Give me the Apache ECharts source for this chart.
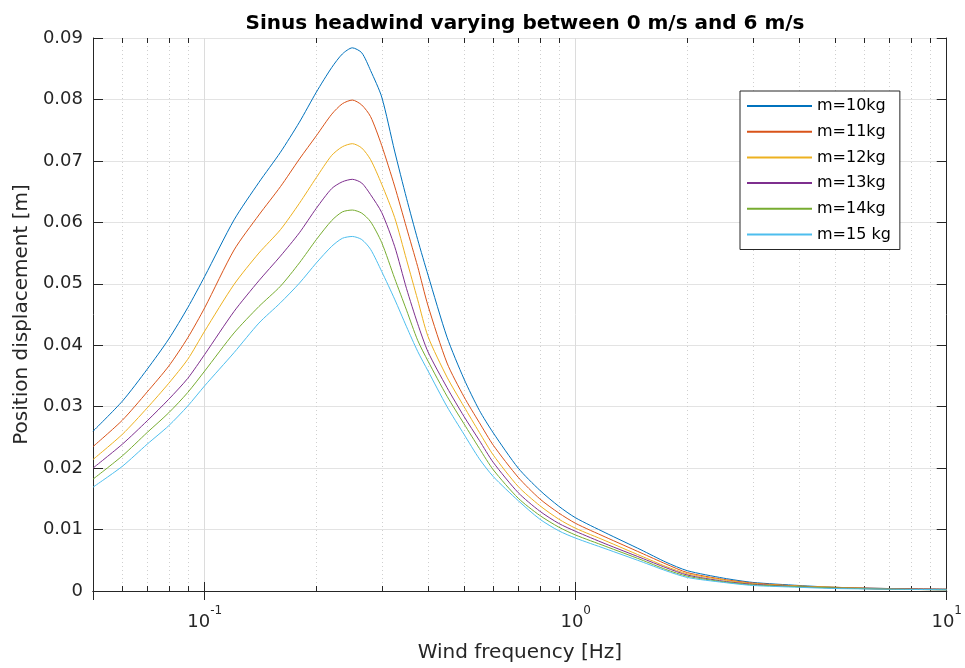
<!DOCTYPE html>
<html>
<head>
<meta charset="utf-8">
<script src="https://cdn.jsdelivr.net/npm/echarts@6/dist/echarts.min.js"></script>
<style>
html,body{margin:0;padding:0;background:#fff;}
#chart{width:965px;height:668px;}
</style>
</head>
<body>
<div id="chart"></div>
<script>
// ---- data ----
const freq = [0.05, 0.06, 0.07, 0.08, 0.09, 0.1, 0.12, 0.14, 0.16, 0.18, 0.2, 0.22, 0.235, 0.25, 0.265, 0.28, 0.3, 0.325, 0.35, 0.375, 0.4, 0.45, 0.5, 0.55, 0.6, 0.7, 0.8, 0.9, 1.0, 1.2, 1.5, 1.75, 2, 2.5, 3, 4, 5, 7, 10];
const m10 = [0.0260, 0.0309, 0.0361, 0.0410, 0.0461, 0.0512, 0.0604, 0.0665, 0.0714, 0.0763, 0.0812, 0.0852, 0.0874, 0.0884, 0.0876, 0.0847, 0.0804, 0.0716, 0.0639, 0.0572, 0.0514, 0.0413, 0.0345, 0.0294, 0.0257, 0.0200, 0.0164, 0.0138, 0.0119, 0.0095, 0.0067, 0.0047, 0.0033, 0.0021, 0.0014, 0.0009, 0.0006, 0.0004, 0.0003];
const m11 = [0.0235, 0.0278, 0.0324, 0.0366, 0.0412, 0.0461, 0.0555, 0.0612, 0.0658, 0.0703, 0.0741, 0.0776, 0.0793, 0.0799, 0.0791, 0.0772, 0.0725, 0.0659, 0.0591, 0.0528, 0.0464, 0.0371, 0.0316, 0.0274, 0.0237, 0.0185, 0.0150, 0.0127, 0.0110, 0.0088, 0.0062, 0.0044, 0.0030, 0.0019, 0.0013, 0.0008, 0.0006, 0.0004, 0.0003];
const m12 = [0.0214, 0.0255, 0.0298, 0.0338, 0.0377, 0.0423, 0.0499, 0.0550, 0.0588, 0.0631, 0.0673, 0.0709, 0.0723, 0.0728, 0.0721, 0.0702, 0.0662, 0.0608, 0.0539, 0.0474, 0.0414, 0.0348, 0.0300, 0.0258, 0.0221, 0.0170, 0.0139, 0.0117, 0.0102, 0.0082, 0.0057, 0.0040, 0.0028, 0.0018, 0.0012, 0.0008, 0.0006, 0.0003, 0.0002];
const m13 = [0.0200, 0.0239, 0.0277, 0.0312, 0.0346, 0.0385, 0.0455, 0.0505, 0.0545, 0.0583, 0.0623, 0.0655, 0.0666, 0.0670, 0.0664, 0.0645, 0.0616, 0.0561, 0.0492, 0.0435, 0.0389, 0.0331, 0.0284, 0.0245, 0.0209, 0.0160, 0.0130, 0.0110, 0.0097, 0.0077, 0.0054, 0.0038, 0.0026, 0.0016, 0.0011, 0.0007, 0.0005, 0.0003, 0.0002];
const m14 = [0.0182, 0.0220, 0.0258, 0.0290, 0.0323, 0.0358, 0.0420, 0.0463, 0.0496, 0.0534, 0.0572, 0.0603, 0.0617, 0.0620, 0.0615, 0.0601, 0.0567, 0.0509, 0.0457, 0.0408, 0.0374, 0.0317, 0.0272, 0.0232, 0.0197, 0.0151, 0.0123, 0.0104, 0.0091, 0.0073, 0.0051, 0.0035, 0.0024, 0.0015, 0.0010, 0.0007, 0.0005, 0.0003, 0.0002];
const m15 = [0.0169, 0.0203, 0.0239, 0.0269, 0.0301, 0.0334, 0.0388, 0.0436, 0.0469, 0.0501, 0.0534, 0.0561, 0.0574, 0.0577, 0.0572, 0.0556, 0.0520, 0.0475, 0.0430, 0.0390, 0.0358, 0.0300, 0.0255, 0.0215, 0.0186, 0.0147, 0.0117, 0.0098, 0.0086, 0.0069, 0.0048, 0.0033, 0.0022, 0.0014, 0.0009, 0.0006, 0.0004, 0.0003, 0.0002];
const seriesNames = ['m=10kg', 'm=11kg', 'm=12kg', 'm=13kg', 'm=14kg', 'm=15 kg'];
const seriesValues = [m10, m11, m12, m13, m14, m15];
const seriesColors = ['#0072BD', '#D95319', '#EDB120', '#7E2F8E', '#77AC30', '#4DBEEE'];
const minorFreqs = [0.06, 0.07, 0.08, 0.09, 0.2, 0.3, 0.4, 0.5, 0.6, 0.7, 0.8, 0.9, 2, 3, 4, 5, 6, 7, 8, 9];
const yMin = 0, yMax = 0.09, yStep = 0.01;
const xMin = 0.05, xMax = 10;

const FONT = 'DejaVu Sans';
const AX = '#262626';

const chart = echarts.init(document.getElementById('chart'), null, {renderer: 'canvas'});

const lineSeries = seriesNames.map((n, i) => ({
  name: n,
  type: 'line',
  xAxisIndex: 0, yAxisIndex: 0,
  data: freq.map((f, k) => [f, seriesValues[i][k]]),
  symbol: 'none',
  showSymbol: false,
  smooth: 0.25,
  lineStyle: {color: seriesColors[i], width: 1},
  itemStyle: {color: seriesColors[i]},
  z: 5
}));

const minorSeries = {
  type: 'custom',
  xAxisIndex: 0, yAxisIndex: 0,
  silent: true,
  z: 1,
  data: minorFreqs.map(f => [f, yMin]),
  encode: {x: 0, y: 1},
  renderItem: function (params, api) {
    const f = api.value(0);
    const b = api.coord([f, yMin]);
    const t = api.coord([f, yMax]);
    const x = Math.round(b[0]) + 0.5;
    return {
      type: 'group',
      children: [
        {type: 'line', shape: {x1: x, y1: b[1], x2: x, y2: t[1]},
         style: {stroke: '#cfcfcf', lineWidth: 1, lineDash: [1, 3]}},
        {type: 'line', shape: {x1: x, y1: b[1], x2: x, y2: b[1] - 5},
         style: {stroke: AX, lineWidth: 1}},
        {type: 'line', shape: {x1: x, y1: t[1], x2: x, y2: t[1] + 5},
         style: {stroke: AX, lineWidth: 1}}
      ]
    };
  }
};

function xLabel(v) {
  const e = Math.round(Math.log10(v));
  if (Math.abs(Math.log10(v) - e) > 1e-6) return '';
  return '{b|10}{s|' + e + '}';
}

const option = {
  backgroundColor: '#fff',
  animation: false,
  title: {
    text: 'Sinus headwind varying between 0 m/s and 6 m/s',
    left: 520, top: 9, textAlign: 'center',
    textStyle: {fontFamily: FONT, fontSize: 20, fontWeight: 'bold', color: '#000'}
  },
  grid: {left: 93, right: 18, top: 38, bottom: 76, containLabel: false},
  legend: {
    orient: 'vertical',
    left: 740, top: 91,
    padding: [7, 9, 7, 6],
    itemWidth: 65, itemHeight: 16, itemGap: 9.7,
    borderColor: AX, borderWidth: 1, borderRadius: 0,
    backgroundColor: '#fff',
    itemStyle: {opacity: 0},
    textStyle: {fontFamily: FONT, fontSize: 16, color: '#000'},
    data: seriesNames
  },
  xAxis: [{
    type: 'log', logBase: 10, min: xMin, max: xMax,
    position: 'bottom',
    name: 'Wind frequency [Hz]', nameLocation: 'middle', nameGap: 52,
    nameTextStyle: {fontFamily: FONT, fontSize: 20, color: AX},
    axisLine: {show: true, lineStyle: {color: AX, width: 1}},
    axisTick: {show: true, inside: true, length: 9, lineStyle: {color: AX, width: 1}},
    axisLabel: {
      show: true, margin: 14, formatter: xLabel, color: AX,
      rich: {
        b: {fontFamily: FONT, fontSize: 18, color: AX, verticalAlign: 'bottom', lineHeight: 26},
        s: {fontFamily: FONT, fontSize: 12, color: AX, verticalAlign: 'top', lineHeight: 26}
      }
    },
    splitLine: {show: true, lineStyle: {color: '#dcdcdc', width: 1}},
    minorTick: {show: false}
  }, {
    type: 'log', logBase: 10, min: xMin, max: xMax,
    position: 'top',
    axisLine: {show: true, lineStyle: {color: AX, width: 1}},
    axisTick: {show: true, inside: true, length: 9, lineStyle: {color: AX, width: 1}},
    axisLabel: {show: false},
    splitLine: {show: false}
  }],
  yAxis: [{
    type: 'value', min: yMin, max: yMax, interval: yStep,
    position: 'left',
    name: 'Position displacement [m]', nameLocation: 'middle', nameGap: 58,
    nameTextStyle: {fontFamily: FONT, fontSize: 20, color: AX},
    axisLine: {show: true, lineStyle: {color: AX, width: 1}},
    axisTick: {show: true, inside: true, length: 10, lineStyle: {color: AX, width: 1}},
    axisLabel: {
      show: true, margin: 10, color: AX, fontFamily: FONT, fontSize: 18,
      formatter: v => (Math.abs(v) < 1e-9 ? '0' : v.toFixed(2))
    },
    splitLine: {show: true, lineStyle: {color: '#e3e3e3', width: 1}}
  }, {
    type: 'value', min: yMin, max: yMax, interval: yStep,
    position: 'right',
    axisLine: {show: true, lineStyle: {color: AX, width: 1}},
    axisTick: {show: true, inside: true, length: 10, lineStyle: {color: AX, width: 1}},
    axisLabel: {show: false},
    splitLine: {show: false}
  }],
  series: [minorSeries].concat(lineSeries)
};

chart.setOption(option);
</script>
</body>
</html>
